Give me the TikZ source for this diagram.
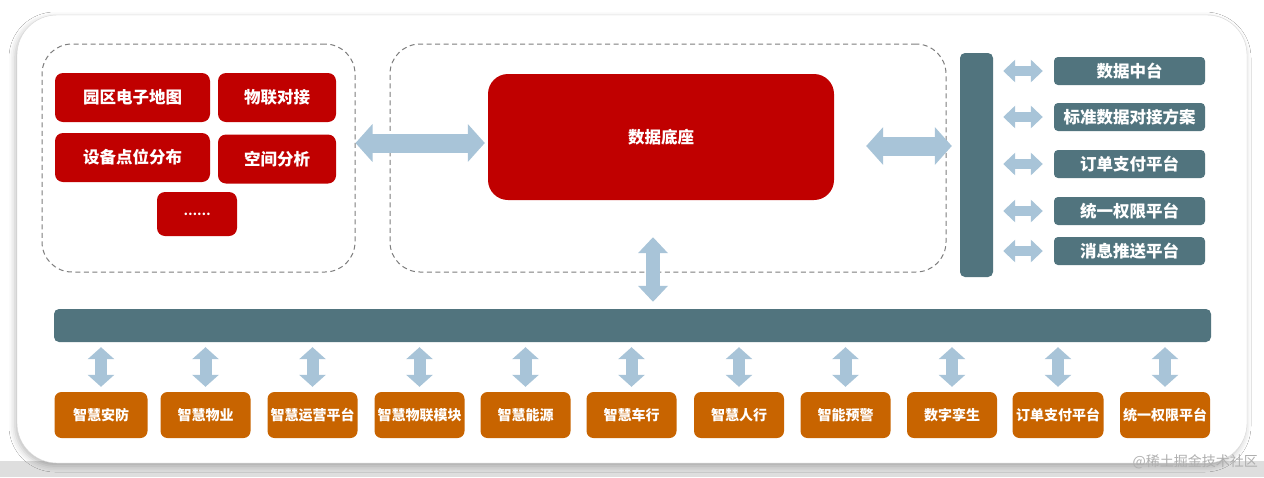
\documentclass[tikz,border=0pt]{standalone}
\usepackage{fontspec}
\newfontfamily\cjk{Noto Sans CJK SC}
\usetikzlibrary{arrows.meta,shadows.blur}
\definecolor{cred}{RGB}{192,0,0}
\definecolor{corange}{RGB}{200,100,0}
\definecolor{cteal}{RGB}{81,116,126}
\definecolor{carrow}{RGB}{168,196,216}
\definecolor{cdash}{RGB}{125,125,125}
\definecolor{cband}{RGB}{222,222,222}
\begin{document}
\begin{tikzpicture}[x=1pt,y=-1pt,
  every node/.style={font=\cjk\bfseries, text=white, inner sep=0pt},
  redbox/.style={fill=cred, rounded corners=8pt},
  orbox/.style={fill=corange, rounded corners=7pt, font=\cjk\bfseries\fontsize{14}{14}\selectfont},
  tealbox/.style={fill=cteal, rounded corners=4pt, font=\cjk\bfseries\fontsize{16.5}{17}\selectfont},
  dashbox/.style={draw=cdash, dash pattern=on 5pt off 3.5pt, line width=1pt, rounded corners=30pt},
  bigarrow/.style={draw=carrow, line width=19pt, {Triangle[length=17pt,width=37pt]}-{Triangle[length=17pt,width=37pt]}},
  midarrow/.style={draw=carrow, line width=14pt, {Triangle[length=16pt,width=29pt]}-{Triangle[length=16pt,width=29pt]}},
  smallarrow/.style={draw=carrow, line width=10pt, {Triangle[length=12pt,width=22pt]}-{Triangle[length=12pt,width=22pt]}},
  botarrow/.style={draw=carrow, line width=12pt, {Triangle[length=12pt,width=26pt]}-{Triangle[length=12pt,width=26pt]}}]
\useasboundingbox (0,0) rectangle (1264,477);
\fill[white] (0,0) rectangle (1264,477);
\fill[cband] (0,461) rectangle (1264,477);
% outer card
\node[draw={rgb,255:red,215;green,215;blue,215}, fill=white, rounded corners=40pt,
  minimum width=1230pt, minimum height=448pt,
  blur shadow={shadow xshift=-2pt, shadow yshift=-3pt, shadow blur radius=6pt, shadow opacity=25}] (card) at (632,239) {};
% dashed groups
\node[dashbox, minimum width=313pt, minimum height=228pt] (leftbox) at (198.5,158) {};
\node[dashbox, minimum width=556pt, minimum height=228pt] (midbox) at (668,158) {};
% red boxes
\node[redbox, minimum width=155pt, minimum height=49pt, font=\cjk\bfseries\fontsize{16.5}{17}\selectfont] (r1) at (132.5,97.5) {园区电子地图};
\node[redbox, minimum width=118pt, minimum height=49pt, font=\cjk\bfseries\fontsize{16.5}{17}\selectfont] (r2) at (277,97.5) {物联对接};
\node[redbox, minimum width=155pt, minimum height=49pt, font=\cjk\bfseries\fontsize{16.5}{17}\selectfont] (r3) at (132.5,157.5) {设备点位分布};
\node[redbox, minimum width=118pt, minimum height=49pt, font=\cjk\bfseries\fontsize{16.5}{17}\selectfont] (r4) at (277,159) {空间分析};
\node[redbox, minimum width=80pt, minimum height=44pt, font=\cjk\bfseries\fontsize{12}{12}\selectfont] (r5) at (197,214) {……};
\node[redbox, rounded corners=20pt, minimum width=346pt, minimum height=126pt, font=\cjk\bfseries\fontsize{16.5}{17}\selectfont] (dbase) at (661,137) {数据底座};
% right vertical bar
\node[fill=cteal, rounded corners=5pt, minimum width=33pt, minimum height=224pt] (vbar) at (976.5,165) {};
% right boxes
\node[tealbox, minimum width=151pt, minimum height=28pt] (t1) at (1129.5,71) {数据中台};
\node[tealbox, minimum width=151pt, minimum height=28pt] (t2) at (1129.5,117) {标准数据对接方案};
\node[tealbox, minimum width=151pt, minimum height=28pt] (t3) at (1129.5,164) {订单支付平台};
\node[tealbox, minimum width=151pt, minimum height=28pt] (t4) at (1129.5,211) {统一权限平台};
\node[tealbox, minimum width=151pt, minimum height=28pt] (t5) at (1129.5,251) {消息推送平台};
% horizontal bar
\node[fill=cteal, rounded corners=5pt, minimum width=1157pt, minimum height=33pt] (hbar) at (632.5,325.5) {};
% bottom boxes
\node[orbox, minimum width=93pt, minimum height=46pt] (b1) at (101,415) {智慧安防};
\node[orbox, minimum width=90pt, minimum height=46pt] (b2) at (205.5,415) {智慧物业};
\node[orbox, minimum width=90pt, minimum height=46pt] (b3) at (312.5,415) {智慧运营平台};
\node[orbox, minimum width=90pt, minimum height=46pt] (b4) at (419.5,415) {智慧物联模块};
\node[orbox, minimum width=90pt, minimum height=46pt] (b5) at (525.5,415) {智慧能源};
\node[orbox, minimum width=90pt, minimum height=46pt] (b6) at (631.5,415) {智慧车行};
\node[orbox, minimum width=90pt, minimum height=46pt] (b7) at (739,415) {智慧人行};
\node[orbox, minimum width=90pt, minimum height=46pt] (b8) at (845.5,415) {智能预警};
\node[orbox, minimum width=90pt, minimum height=46pt] (b9) at (952,415) {数字孪生};
\node[orbox, minimum width=91pt, minimum height=46pt] (b10) at (1058,415) {订单支付平台};
\node[orbox, minimum width=90pt, minimum height=46pt] (b11) at (1165,415) {统一权限平台};
% arrows
\draw[bigarrow] ([yshift=15pt]leftbox.east) -- ([yshift=-6pt,xshift=-3pt]dbase.west);
\draw[bigarrow] ([yshift=-9pt,xshift=32pt]dbase.east) -- ([yshift=19pt,xshift=-8pt]vbar.west);
\coordinate (dbot) at ([yshift=-37pt,xshift=-8pt]dbase.south);
\coordinate (dtop) at (dbot |- hbar.north);
\draw[midarrow] (dbot) -- ([yshift=7pt]dtop);
\foreach \t in {t1,t2,t3,t4,t5}{
  \coordinate (s\t) at (vbar.east |- \t.west);
  \draw[smallarrow] ([xshift=10pt]s\t) -- ([xshift=-11pt]\t.west);
}
\foreach \b in {b1,b2,b3,b4,b5,b6,b7,b8,b9,b10,b11}{
  \coordinate (h\b) at (\b.north |- hbar.south);
  \draw[botarrow] ([yshift=-5pt]h\b) -- ([yshift=5pt]\b.north);
}
\node[text={rgb,255:red,175;green,175;blue,175}, font=\cjk\fontsize{14}{14}\selectfont, anchor=east] (wm) at (1258,462) {@稀土掘金技术社区};
\end{tikzpicture}
\end{document}
